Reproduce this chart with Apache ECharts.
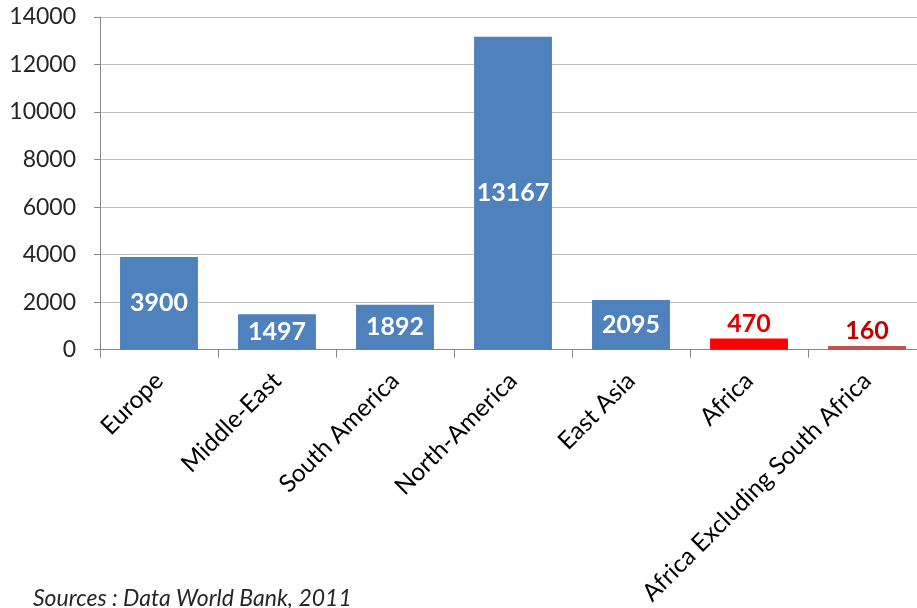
<!DOCTYPE html>
<html><head><meta charset="utf-8">
<script src="https://cdn.jsdelivr.net/npm/echarts@6/dist/echarts.min.js"></script>
<style>html,body{margin:0;padding:0;background:#fff;overflow:hidden;width:917px;height:608px}#c{width:928px;height:608px}</style>
</head><body><div id="c"></div>
<script>
const categories = ["Europe","Middle-East","South America","North-America","East Asia","Africa","Africa Excluding South Africa"];
const values = [3900,1497,1892,13167,2095,470,160];
const barColors = ["#4F81BD","#4F81BD","#4F81BD","#4F81BD","#4F81BD","#FF0000","#C0504D"];
const labelInside = [true,true,true,true,true,false,false];
const labelColors = ["#FFFFFF","#FFFFFF","#FFFFFF","#FFFFFF","#FFFFFF","#E00000","#C00000"];
const yTicks = [0,2000,4000,6000,8000,10000,12000,14000];
const sourceText = "Sources : Data World Bank, 2011";

const chart = echarts.init(document.getElementById('c'));
const data = values.map((v,i)=>({
  value: v,
  itemStyle: {color: barColors[i]},
  label: {
    show: true,
    position: labelInside[i] ? 'inside' : 'top',
    distance: 2,
    color: labelColors[i],
    fontWeight: 'bold',
    fontSize: 25,
    fontFamily: 'Lato'
  }
}));
chart.setOption({
  animation: false,
  grid: {left: 100, top: 17, right: 2, bottom: 258, containLabel: false},
  xAxis: {
    type: 'category',
    data: categories,
    axisLine: {lineStyle: {color: '#868686', width: 1}},
    axisTick: {show: true, alignWithLabel: false, length: 8, lineStyle: {color: '#868686'}},
    axisLabel: {rotate: 45, interval: 0, margin: 27, color: '#000', fontSize: 24.5, fontFamily: 'Lato'}
  },
  yAxis: {
    type: 'value',
    min: yTicks[0], max: yTicks[yTicks.length-1], interval: 2000,
    axisLine: {show: true, lineStyle: {color: '#868686'}},
    axisTick: {show: true, length: 6, lineStyle: {color: '#868686'}},
    splitLine: {lineStyle: {color: '#BFBFBF'}},
    axisLabel: {margin: 24, color: '#262626', fontSize: 23, fontFamily: 'Lato', formatter: v => String(v)}
  },
  series: [{
    type: 'bar',
    data: data,
    barWidth: '66%'
  }],
  graphic: [{
    type: 'text', left: 33, top: 587,
    style: {text: sourceText, fontSize: 23, fontStyle: 'italic', fontFamily: 'Lato', fill: '#262626'}
  }]
});
</script></body></html>
